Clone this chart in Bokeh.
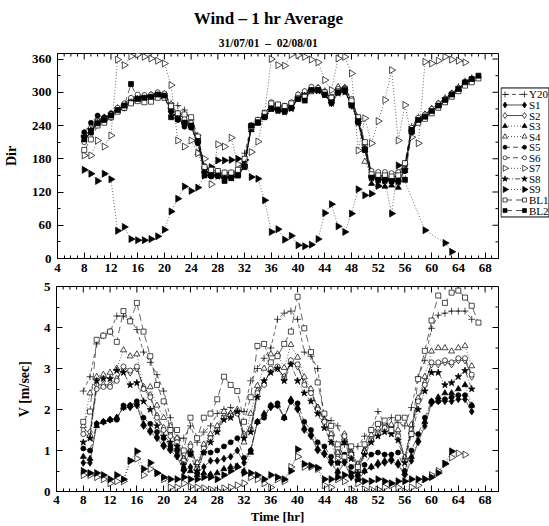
import math
from bokeh.plotting import figure
from bokeh.layouts import column, row
from bokeh.models import Range1d, LinearAxis, SingleIntervalTicker
from bokeh.embed import file_html
from bokeh.resources import INLINE
from bokeh.core.properties import value

SERIF = "Liberation Serif"

# ---------------------------------------------------------------- time axes
hours_to_66 = [8, 9, 10, 11, 12, 13, 14, 15, 16, 17,
               18, 19, 20, 21, 22, 23, 24, 25, 26, 27,
               28, 29, 30, 31, 32, 33, 34, 35, 36, 37,
               38, 39, 40, 41, 42, 43, 44, 45, 46, 47,
               48, 49, 50, 51, 52, 53, 54, 55, 56, 57,
               58, 59, 60, 61, 62, 63, 64, 65, 66]
hours_to_67 = hours_to_66 + [67]
hours_to_65 = hours_to_66[:-1]
hours_to_63 = hours_to_66[:-3]
s9_dir_hours = hours_to_66[:48] + [59, 62, 63]

# ---------------------------------------------------------------- wind direction [deg]
dir_y20 = [220, 235, 250, 255, 262, 272, 278, 285, 292, 293,
           295, 298, 297, 280, 276, 268, 250, 222, 165, 155,
           152, 150, 152, 155, 190, 240, 250, 262, 277, 275,
           272, 278, 292, 300, 305, 307, 298, 286, 300, 305,
           275, 252, 205, 150, 148, 146, 144, 146, 170, 238,
           255, 260, 270, 279, 290, 298, 310, 320, 326]
dir_s1 = [212, 228, 250, 250, 255, 267, 272, 283, 290, 292,
          293, 297, 293, 265, 252, 242, 238, 210, 158, 150,
          150, 146, 148, 152, 168, 238, 246, 256, 272, 268,
          266, 273, 290, 297, 306, 305, 296, 280, 302, 302,
          280, 248, 198, 148, 143, 142, 140, 140, 160, 230,
          250, 256, 265, 275, 285, 294, 304, 316, 322]
dir_s2 = [218, 235, 250, 254, 260, 270, 276, 286, 293, 292,
          294, 298, 296, 275, 262, 252, 245, 218, 165, 155,
          156, 152, 152, 156, 172, 236, 248, 260, 280, 276,
          274, 280, 295, 300, 308, 308, 302, 290, 306, 308,
          285, 252, 202, 155, 150, 150, 148, 148, 166, 234,
          252, 260, 270, 280, 288, 298, 308, 318, 324]
dir_s3 = [222, 236, 246, 252, 258, 266, 274, 282, 288, 290,
          292, 295, 292, 268, 255, 246, 240, 212, 160, 150,
          150, 148, 148, 150, 168, 232, 244, 256, 272, 270,
          268, 274, 290, 296, 304, 304, 298, 284, 308, 306,
          280, 246, 196, 135, 132, 130, 132, 128, 158, 228,
          250, 256, 266, 276, 285, 295, 305, 316, 322]
dir_s4 = [225, 238, 250, 253, 260, 270, 276, 285, 292, 293,
          295, 298, 296, 272, 260, 250, 242, 190, 158, 152,
          152, 150, 150, 152, 170, 236, 247, 258, 276, 273,
          270, 276, 292, 298, 306, 306, 300, 288, 310, 308,
          284, 250, 175, 150, 145, 145, 143, 142, 164, 232,
          252, 258, 268, 277, 286, 296, 306, 318, 324]
dir_s5 = [228, 245, 258, 255, 262, 270, 278, 286, 293, 292,
          293, 296, 293, 265, 250, 238, 236, 208, 155, 148,
          150, 145, 146, 150, 166, 240, 246, 256, 272, 268,
          265, 272, 289, 296, 304, 304, 296, 282, 300, 302,
          278, 245, 196, 146, 142, 142, 140, 140, 158, 228,
          248, 254, 264, 274, 284, 294, 304, 315, 322]
dir_s6 = [210, 230, 248, 252, 260, 272, 280, 290, 296, 295,
          296, 300, 298, 278, 262, 252, 245, 215, 165, 158,
          158, 155, 155, 158, 175, 236, 248, 260, 282, 278,
          276, 282, 296, 302, 310, 308, 300, 292, 306, 308,
          288, 255, 205, 158, 156, 156, 154, 156, 172, 236,
          254, 260, 270, 280, 288, 298, 308, 318, 324]
dir_s7 = [186, 186, 213, 202, 222, 359, 349, 365, 368, 364,
          361, 357, 352, 313, 213, 202, 213, 190, 180, 134,
          206, 202, 218, 170, 178, 192, 211, 262, 360, 349,
          348, 368, 367, 364, 359, 354, 322, 304, 361, 364,
          334, 195, 253, 208, 248, 286, 340, 213, 277, 219,
          208, 355, 352, 357, 364, 359, 357, 354]
dir_s8 = [220, 232, 245, 250, 256, 266, 272, 282, 288, 289,
          290, 294, 292, 270, 258, 244, 238, 210, 160, 150,
          148, 145, 146, 150, 168, 235, 245, 255, 270, 266,
          264, 270, 288, 294, 302, 302, 295, 280, 298, 300,
          278, 245, 198, 145, 142, 140, 140, 138, 160, 230,
          248, 255, 264, 274, 283, 293, 303, 314, 320]
dir_s9 = [160, 153, 140, 153, 143, 50, 57, 35, 33, 33,
          35, 40, 52, 85, 108, 130, 122, 128, 150, 165,
          177, 177, 178, 180, 178, 147, 144, 105, 48, 53,
          34, 41, 24, 22, 25, 35, 82, 98, 58, 48,
          81, 125, 114, 117, 131, 141, 81, 168,
          51, 28, 12]
dir_bl1 = [196, 215, 240, 245, 255, 265, 272, 280, 284, 282,
           283, 290, 290, 275, 262, 260, 255, 220, 165, 160,
           158, 155, 155, 160, 180, 238, 250, 262, 280, 278,
           275, 280, 290, 292, 302, 304, 300, 290, 302, 306,
           285, 255, 210, 152, 150, 150, 148, 150, 172, 232,
           245, 252, 262, 272, 282, 292, 302, 312, 318, 325]
dir_bl2 = [215, 228, 244, 250, 258, 268, 276, 315, 288, 290,
           292, 296, 294, 255, 252, 245, 240, 212, 150, 150,
           150, 140, 145, 150, 165, 240, 246, 256, 270, 268,
           266, 272, 288, 285, 304, 304, 296, 282, 300, 304,
           276, 248, 196, 146, 142, 142, 140, 140, 142, 232,
           250, 256, 266, 276, 286, 296, 306, 318, 324, 330]

# ---------------------------------------------------------------- wind speed [m/s]
spd_y20 = [2.45, 2.8, 3.6, 3.8, 3.9, 4.28, 4.28, 4.2, 3.95, 3.4,
           3.15, 2.85, 2.45, 1.8, 1.3, 1.3, 1.6, 1.2, 1.45, 1.6,
           1.9, 2.0, 2.05, 1.95, 1.95, 2.7, 3.0, 3.25, 3.5, 4.2,
           4.35, 4.4, 4.2, 3.4, 3.3, 3.0, 1.75, 1.73, 1.6, 1.15,
           0.95, 1.1, 1.35, 1.5, 1.95, 1.65, 1.8, 1.68, 1.6, 2.05,
           2.79, 3.2, 3.98, 4.3, 4.35, 4.4, 4.4, 4.4, 4.2]
spd_s1 = [0.7, 0.7, 1.65, 1.7, 1.75, 1.8, 2.05, 2.05, 2.1, 1.6,
          1.45, 1.3, 1.1, 1.0, 0.85, 0.5, 0.6, 0.45, 0.6, 0.75,
          0.75, 0.8, 0.85, 1.0, 0.7, 1.0, 1.7, 1.85, 2.05, 2.1,
          1.8, 2.2, 2.0, 1.5, 1.35, 1.0, 0.9, 0.7, 0.45, 0.7,
          0.35, 0.25, 0.5, 0.6, 0.65, 0.7, 0.75, 0.65, 0.4, 0.75,
          1.2, 1.6, 2.15, 2.2, 2.2, 2.2, 2.25, 2.25, 1.95]
spd_s2 = [1.5, 1.45, 2.6, 2.6, 2.6, 2.75, 3.0, 2.9, 3.0, 2.55,
          2.35, 1.85, 1.55, 1.4, 1.25, 0.8, 1.15, 0.6, 1.1, 1.35,
          1.55, 1.85, 1.9, 1.95, 1.4, 1.55, 2.45, 2.65, 2.95, 3.0,
          2.8, 3.15, 3.05, 2.65, 2.45, 2.05, 1.75, 1.35, 0.85, 1.4,
          0.95, 0.55, 1.0, 1.3, 1.45, 1.6, 1.55, 1.4, 0.8, 1.55,
          2.25, 2.65, 3.1, 3.1, 3.15, 3.1, 3.2, 3.2, 2.8]
spd_s3 = [0.85, 0.8, 1.6, 1.7, 1.75, 1.8, 2.05, 2.1, 2.15, 1.65,
          1.5, 1.35, 1.15, 1.05, 0.9, 0.55, 0.5, 0.4, 0.45, 0.42,
          0.45, 0.55, 0.6, 0.62, 0.5, 0.95, 1.7, 1.9, 2.1, 2.1,
          1.8, 2.25, 2.05, 1.55, 1.4, 1.05, 0.95, 0.75, 0.5, 0.75,
          0.4, 0.3, 0.5, 0.6, 0.7, 0.75, 0.8, 0.7, 0.45, 0.85,
          1.25, 1.7, 2.2, 2.3, 2.4, 2.4, 2.5, 2.6, 2.1]
spd_s4 = [1.6, 2.4, 2.8, 2.85, 2.9, 3.0, 3.45, 3.3, 3.35, 2.5,
          2.55, 2.1, 1.8, 1.6, 1.3, 0.8, 1.0, 0.7, 1.15, 1.4,
          1.6, 1.95, 1.9, 2.0, 1.2, 1.9, 2.58, 3.0, 3.35, 3.35,
          3.02, 3.58, 3.27, 2.79, 2.5, 2.05, 1.73, 1.4, 0.95, 1.3,
          0.92, 0.67, 0.98, 1.38, 1.54, 1.67, 1.63, 1.5, 0.83, 1.63,
          2.28, 2.8, 3.42, 3.5, 3.5, 3.42, 3.5, 3.55, 3.06]
spd_s5 = [1.05, 1.0, 1.65, 1.7, 1.75, 1.75, 2.1, 2.1, 2.2, 1.8,
          1.65, 1.45, 1.3, 1.1, 1.0, 0.55, 0.9, 0.45, 0.95, 0.95,
          1.0, 1.1, 1.2, 1.3, 0.82, 1.0, 1.7, 1.8, 2.1, 2.15,
          1.8, 2.2, 2.15, 1.7, 1.5, 1.2, 1.1, 0.85, 0.7, 0.9,
          0.6, 0.4, 0.65, 0.9, 0.95, 0.9, 0.9, 0.95, 0.5, 1.0,
          1.4, 1.8, 2.2, 2.2, 2.25, 2.3, 2.35, 2.35, 2.1]
spd_s6 = [1.4, 1.35, 2.5, 2.55, 2.55, 2.7, 3.05, 2.95, 3.05, 2.5,
          2.3, 1.8, 1.5, 1.35, 1.2, 0.75, 1.1, 0.55, 1.05, 1.3,
          1.5, 1.8, 1.85, 1.9, 1.35, 1.5, 2.4, 2.6, 3.0, 3.05,
          2.75, 3.2, 3.1, 2.6, 2.4, 2.0, 1.7, 1.3, 0.8, 1.35,
          0.9, 0.5, 0.95, 1.25, 1.4, 1.55, 1.5, 1.35, 0.75, 1.5,
          2.2, 2.6, 3.15, 3.15, 3.2, 3.15, 3.25, 3.25, 2.85]
spd_s7 = [0.4, 0.4, 0.35, 0.3, 0.2, 0.25, 0.25, 0.75, 0.8, 0.4,
          0.55, 0.45, 0.3, 0.1, 0.1, 0.2, 0.12, 0.1, 0.08, 0.05,
          0.02, 0.08, 0.1, 0.15, 0.2, 0.35, 0.3, 0.2, 0.1, 0.3,
          0.25, 0.6, 0.85, 0.6, 0.6, 0.55, 0.15, 0.1, 0.3, 0.25,
          0.05, 0.2, 0.05, 0.05, 0.05, 0.1, 0.15, 0.1, 0.0, 0.1,
          0.15, 0.3, 0.4, 0.5, 0.67, 0.83, 0.93, 0.9]
spd_s8 = [1.2, 1.3, 2.7, 2.75, 2.75, 2.95, 2.9, 2.6, 2.65, 2.2,
          2.0, 1.6, 1.35, 1.2, 1.1, 0.65, 0.95, 0.5, 0.95, 1.2,
          1.45, 1.75, 1.8, 1.95, 1.3, 1.45, 2.3, 2.7, 2.9, 3.0,
          2.7, 3.1, 2.7, 2.4, 2.2, 1.9, 1.55, 1.2, 0.7, 1.2,
          0.8, 0.45, 0.9, 1.2, 1.35, 1.45, 1.4, 1.25, 0.7, 1.4,
          2.0, 2.45, 2.9, 2.9, 2.6, 2.65, 2.8, 2.95, 2.5]
spd_s9 = [0.5, 0.45, 0.45, 0.4, 0.3, 0.4, 0.3, 0.75, 0.98, 0.55,
          0.7, 0.45, 0.35, 0.3, 0.3, 0.35, 0.3, 0.3, 0.35, 0.35,
          0.3, 0.4, 0.5, 0.6, 0.45, 0.45, 0.4, 0.3, 0.4, 0.35,
          0.3, 0.5, 1.03, 0.67, 0.63, 0.58, 0.3, 0.3, 0.35, 0.4,
          0.45, 0.3, 0.25, 0.25, 0.3, 0.25, 0.2, 0.25, 0.25, 0.3,
          0.3, 0.3, 0.35, 0.45, 0.68, 0.98]
spd_bl1 = [1.7, 1.95, 3.7, 3.8, 3.9, 3.65, 4.4, 4.15, 4.6, 3.9,
           3.3, 2.6, 2.2, 1.5, 1.5, 1.0, 1.8, 1.3, 1.8, 1.9,
           2.25, 2.8, 2.6, 2.45, 1.7, 2.3, 3.55, 3.6, 3.15, 3.3,
           3.6, 3.9, 4.75, 3.98, 3.4, 2.66, 1.9, 1.6, 1.15, 0.85,
           1.1, 0.6, 1.15, 1.5, 1.65, 1.73, 1.5, 1.8, 1.8, 1.4,
           2.74, 3.43, 4.17, 4.78, 4.6, 4.85, 4.9, 4.73, 4.53, 4.12]

series_names = ["Y20", "S1", "S2", "S3", "S4", "S5", "S6", "S7", "S8", "S9", "BL1", "BL2"]

direction = {
    "Y20": (hours_to_66, dir_y20), "S1": (hours_to_66, dir_s1), "S2": (hours_to_66, dir_s2),
    "S3": (hours_to_66, dir_s3), "S4": (hours_to_66, dir_s4), "S5": (hours_to_66, dir_s5),
    "S6": (hours_to_66, dir_s6), "S7": (hours_to_65, dir_s7), "S8": (hours_to_66, dir_s8),
    "S9": (s9_dir_hours, dir_s9), "BL1": (hours_to_67, dir_bl1), "BL2": (hours_to_67, dir_bl2),
}
# BL2 has no speed record
speed = {
    "Y20": (hours_to_66, spd_y20), "S1": (hours_to_66, spd_s1), "S2": (hours_to_66, spd_s2),
    "S3": (hours_to_66, spd_s3), "S4": (hours_to_66, spd_s4), "S5": (hours_to_66, spd_s5),
    "S6": (hours_to_66, spd_s6), "S7": (hours_to_65, spd_s7), "S8": (hours_to_66, spd_s8),
    "S9": (hours_to_63, spd_s9), "BL1": (hours_to_67, spd_bl1),
}

# ---------------------------------------------------------------- line / marker styles
RIGHT = -math.pi / 2
STYLE = {
    "Y20": dict(marker="cross", fill="black", dash="4 3", size=7, angle=0),
    "S1": dict(marker="diamond", fill="black", dash="solid", size=7, angle=0),
    "S2": dict(marker="diamond", fill="white", dash="solid", size=7, angle=0),
    "S3": dict(marker="triangle", fill="black", dash="1 2", size=6, angle=0),
    "S4": dict(marker="triangle", fill="white", dash="1 2", size=6, angle=0),
    "S5": dict(marker="circle", fill="black", dash="5 3", size=5, angle=0),
    "S6": dict(marker="circle", fill="white", dash="5 3", size=5, angle=0),
    "S7": dict(marker="triangle", fill="white", dash="1 2", size=7, angle=RIGHT),
    "S8": dict(marker="star", fill="black", dash="5 2 1 2", size=7, angle=0),
    "S9": dict(marker="triangle", fill="black", dash="1 2", size=7, angle=RIGHT),
    "BL1": dict(marker="square", fill="white", dash="7 4", size=5, angle=0),
    "BL2": dict(marker="square", fill="black", dash="7 4", size=5, angle=0),
}

X_MIN, X_MAX = 4, 70
FRAME_W, FRAME_H = 442, 205


def draw_series(p, xs, ys, st):
    p.line(xs, ys, line_color="black", line_width=0.6, line_dash=st["dash"])
    p.scatter(xs, ys, marker=st["marker"], size=st["size"], angle=st["angle"],
              fill_color=st["fill"], line_color="black", line_width=0.7)


def style_axis(ax, label_size="13px"):
    ax.axis_line_color = "black"
    ax.major_tick_line_color = "black"
    ax.minor_tick_line_color = "black"
    ax.major_tick_in = 6
    ax.major_tick_out = 0
    ax.minor_tick_in = 3
    ax.minor_tick_out = 0
    ax.major_label_text_font = SERIF
    ax.major_label_text_font_style = "bold"
    ax.major_label_text_font_size = label_size
    ax.major_label_text_color = "black"
    ax.axis_label_text_font = SERIF
    ax.axis_label_text_font_style = "bold"
    ax.axis_label_text_color = "black"


def mirror_ticks(p, y_max, y_step):
    """Inward tick marks on the top and right edges of the frame."""
    ux = (X_MAX - X_MIN) / FRAME_W      # data units per pixel, x
    uy = y_max / FRAME_H                 # data units per pixel, y
    x_major = [v for v in range(X_MIN, X_MAX + 1) if (v - X_MIN) % 4 == 0]
    x_minor = [v for v in range(X_MIN, X_MAX + 1) if (v - X_MIN) % 4 != 0]
    n_steps = int(y_max // y_step)
    y_major = [k * y_step for k in range(n_steps + 1)]
    y_minor = [(k + 0.5) * y_step for k in range(n_steps + 1) if (k + 0.5) * y_step < y_max]
    for xs, length in ((x_major, 6), (x_minor, 3)):
        p.segment(x0=xs, y0=[y_max] * len(xs), x1=xs, y1=[y_max - length * uy] * len(xs),
                  line_color="black", line_width=1)
    for ys, length in ((y_major, 6), (y_minor, 3)):
        p.segment(x0=[X_MAX] * len(ys), y0=ys, x1=[X_MAX - length * ux] * len(ys), y1=ys,
                  line_color="black", line_width=1)


def panel(width, height, y_max, y_step, borders):
    left, right, top, bottom = borders
    p = figure(width=width, height=height, x_range=Range1d(X_MIN, X_MAX),
               y_range=Range1d(0, y_max), x_axis_location=None, y_axis_location=None,
               output_backend="svg", toolbar_location=None,
               min_border_left=left, min_border_right=right,
               min_border_top=top, min_border_bottom=bottom)
    p.xgrid.visible = False
    p.ygrid.visible = False
    p.outline_line_color = "black"
    p.background_fill_color = "white"
    p.border_fill_color = "white"
    xax = LinearAxis(ticker=SingleIntervalTicker(interval=4, num_minor_ticks=4))
    yax = LinearAxis(ticker=SingleIntervalTicker(interval=y_step, num_minor_ticks=2))
    style_axis(xax)
    style_axis(yax)
    p.add_layout(xax, "below")
    p.add_layout(yax, "left")
    mirror_ticks(p, y_max, y_step)
    return p, xax, yax


# ---------------------------------------------------------------- title strip
head = figure(width=549, height=48, x_range=Range1d(0, 549), y_range=Range1d(48, 0),
              x_axis_location=None, y_axis_location=None, min_border=0,
              toolbar_location=None, output_backend="svg", outline_line_color=None)
head.xgrid.visible = False
head.ygrid.visible = False
head.text(x=[264], y=[17.5], text=["Wind – 1 hr Average"], text_font=value(SERIF),
          text_font_style="bold", text_font_size="17px", text_align="center",
          text_baseline="alphabetic", text_color="black")
head.text(x=[263], y=[42.5], text=["31/07/01 \u00a0–\u00a0 02/08/01"], text_font=value(SERIF),
          text_font_style="bold", text_font_size="11.5px", text_align="center",
          text_baseline="alphabetic", text_color="black")

# ---------------------------------------------------------------- direction panel
top, top_x, top_y = panel(500, 232, 370, 60, (56, 2, 5, 22))
top_y.axis_label = "Dir"
top_y.axis_label_text_font_size = "14px"
top_y.axis_label_standoff = 10
top_y.major_label_standoff = 6
top_x.major_label_standoff = 5
for name in series_names:
    xs, ys = direction[name]
    draw_series(top, xs, ys, STYLE[name])

# ---------------------------------------------------------------- legend box
key = figure(width=49, height=232, x_range=Range1d(0, 49), y_range=Range1d(232, 0),
             x_axis_location=None, y_axis_location=None, min_border=0,
             toolbar_location=None, output_backend="svg", outline_line_color=None)
key.xgrid.visible = False
key.ygrid.visible = False
key.quad(left=[0.5], right=[48.5], top=[39], bottom=[185],
         fill_color="white", line_color="black", line_width=1)
for i, name in enumerate(series_names):
    yy = 46.3 + 11.95 * i
    st = STYLE[name]
    key.line([4.5, 24], [yy, yy], line_color="black", line_width=0.7, line_dash=st["dash"])
    key.scatter([4.5, 24], [yy, yy], marker=st["marker"], size=st["size"] - 1, angle=st["angle"],
                fill_color=st["fill"], line_color="black", line_width=0.7)
    key.text(x=[28.5], y=[yy], text=[name], text_font=value(SERIF), text_font_size="11px",
             text_baseline="middle", text_align="left", text_color="black")

# ---------------------------------------------------------------- speed panel
bottom, bot_x, bot_y = panel(549, 246, 5, 1, (56, 51, 6, 35))
bot_y.axis_label = "V [m/sec]"
bot_y.axis_label_text_font_size = "14px"
bot_y.axis_label_standoff = 9
bot_y.major_label_standoff = 6
bot_x.axis_label = "Time [hr]"
bot_x.axis_label_text_font_size = "13px"
bot_x.axis_label_standoff = 2
bot_x.major_label_standoff = 4
for name in series_names:
    if name in speed:
        xs, ys = speed[name]
        draw_series(bottom, xs, ys, STYLE[name])

layout = column(head, row(top, key), bottom)
open("out.html", "w").write(file_html(layout, INLINE))
